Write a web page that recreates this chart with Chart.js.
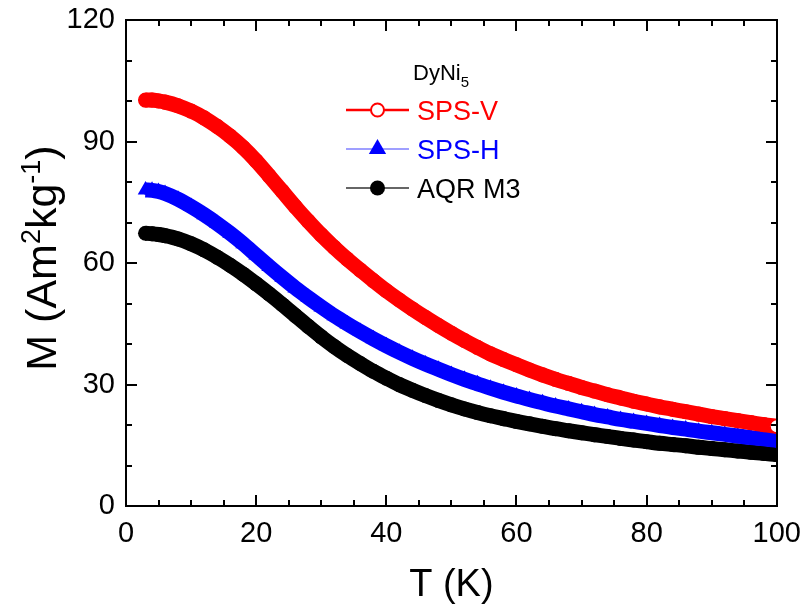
<!DOCTYPE html>
<html>
<head>
<meta charset="utf-8">
<script src="https://cdn.jsdelivr.net/npm/chart.js@4.4.1/dist/chart.umd.min.js"></script>
<style>
  html, body { margin: 0; padding: 0; background: #fff; }
  #wrap { width: 804px; height: 611px; }
</style>
</head>
<body>
<div id="wrap"><canvas id="mtChart" width="804" height="611"></canvas></div>
<script>
// temperature (K)
const temps = [
  3, 4, 5, 6, 8, 10, 12, 14, 16, 18, 20, 22, 24, 26, 28, 30, 32, 34, 36, 38,
  40, 42, 44, 46, 48, 50, 52, 54, 56, 58, 60, 62, 64, 66, 68, 70, 72, 74, 76, 78,
  80, 82, 84, 86, 88, 90, 92, 94, 96, 98, 100
];
// M (Am2/kg) for each sample
const spsV = [
  100.3, 100.3, 100.1, 99.8, 98.9, 97.6, 95.9, 93.8, 91.4, 88.6, 85.3, 81.6, 77.8, 74.0, 70.4, 67.0, 63.9, 61.0, 58.3, 55.7,
  53.2, 50.9, 48.7, 46.6, 44.6, 42.7, 40.9, 39.2, 37.6, 36.2, 34.9, 33.6, 32.4, 31.3, 30.3, 29.3, 28.4, 27.5, 26.7, 25.9,
  25.2, 24.5, 23.9, 23.3, 22.7, 22.1, 21.6, 21.1, 20.6, 20.1, 19.7
];
const spsH = [
  78.1, 78.0, 77.7, 77.2, 75.8, 74.0, 72.0, 69.8, 67.4, 64.8, 62.0, 59.2, 56.5, 53.9, 51.5, 49.2, 47.0, 45.0, 43.1, 41.3,
  39.6, 38.0, 36.5, 35.1, 33.8, 32.5, 31.3, 30.2, 29.1, 28.1, 27.2, 26.3, 25.5, 24.7, 24.0, 23.3, 22.6, 22.0, 21.4, 20.9,
  20.4, 19.9, 19.4, 19.0, 18.5, 18.1, 17.7, 17.3, 16.9, 16.6, 16.2
];
const aqrM3 = [
  67.4, 67.3, 67.1, 66.8, 66.0, 64.8, 63.3, 61.5, 59.5, 57.3, 54.9, 52.4, 49.8, 47.1, 44.4, 41.8, 39.4, 37.2, 35.2, 33.3,
  31.6, 30.0, 28.6, 27.3, 26.1, 25.0, 24.0, 23.1, 22.3, 21.6, 20.9, 20.3, 19.7, 19.1, 18.6, 18.1, 17.6, 17.2, 16.7, 16.3,
  15.9, 15.5, 15.2, 14.9, 14.5, 14.2, 13.9, 13.6, 13.3, 13.0, 12.7
];
const xTicks = [0, 20, 40, 60, 80, 100];
const yTicks = [0, 30, 60, 90, 120];

const FONT = "'Liberation Sans', Arial, sans-serif";
const pts = vals => temps.map((t, i) => ({ x: t, y: vals[i] }));

// box frame with inward major/minor ticks on all four sides
const frame = {
  id: "boxframe",
  afterDatasetsDraw(chart) {
    const ctx = chart.ctx;
    const a = chart.chartArea;
    const xs = chart.scales.x, ys = chart.scales.y;
    const L = Math.round(a.left), R = Math.round(a.right);
    const T = Math.round(a.top), B = Math.round(a.bottom);
    ctx.save();
    ctx.fillStyle = "#000000";
    ctx.fillRect(L - 1, T - 1, R - L + 2, 2);
    ctx.fillRect(L - 1, B - 1, R - L + 2, 2);
    ctx.fillRect(L - 1, T - 1, 2, B - T + 2);
    ctx.fillRect(R - 1, T - 1, 2, B - T + 2);
    for (let v = 0; v <= 100; v += 5) {
      const px = Math.round(xs.getPixelForValue(v));
      const len = xTicks.indexOf(v) >= 0 ? 11 : 6;
      ctx.fillRect(px - 1, B - len, 2, len);
      ctx.fillRect(px - 1, T, 2, len);
    }
    for (let v = 0; v <= 120; v += 10) {
      const py = Math.round(ys.getPixelForValue(v));
      const len = yTicks.indexOf(v) >= 0 ? 11 : 6;
      ctx.fillRect(L, py - 1, len, 2);
      ctx.fillRect(R - len, py - 1, len, 2);
    }
    ctx.restore();
  }
};

// y title with superscripts, and the legend block
const labels = {
  id: "labels",
  afterDraw(chart) {
    const ctx = chart.ctx;
    ctx.save();
    // y axis title
    ctx.translate(41, 258);
    ctx.rotate(-Math.PI / 2);
    const big = "43px " + FONT, small = "27px " + FONT;
    const parts = [["M (Am", big, 0], ["2", small, -16], ["kg", big, 0], ["-1", small, -16], [")", big, 0]];
    let w = 0;
    parts.forEach(p => { ctx.font = p[1]; w += ctx.measureText(p[0]).width; });
    let cx = -w / 2;
    ctx.fillStyle = "#000";
    ctx.textBaseline = "alphabetic";
    parts.forEach(p => {
      ctx.font = p[1];
      ctx.fillText(p[0], cx, 15 + p[2]);
      cx += ctx.measureText(p[0]).width;
    });
    ctx.restore();

    // legend
    ctx.save();
    ctx.textBaseline = "alphabetic";
    ctx.fillStyle = "#000";
    ctx.font = "22px " + FONT;
    ctx.fillText("DyNi", 413, 80);
    const dw = ctx.measureText("DyNi").width;
    ctx.font = "15px " + FONT;
    ctx.fillText("5", 413 + dw, 87);

    const rows = [
      { name: "SPS-V", color: "#ff0000", line: "#ff0000", lw: 2.5, y: 110, style: "open" },
      { name: "SPS-H", color: "#0000ff", line: "#7f7fff", lw: 1.5, y: 149, style: "tri" },
      { name: "AQR M3", color: "#000000", line: "#333333", lw: 1.5, y: 188, style: "dot" }
    ];
    rows.forEach(r => {
      ctx.strokeStyle = r.line;
      ctx.lineWidth = r.lw;
      ctx.beginPath();
      ctx.moveTo(346, r.y); ctx.lineTo(409, r.y);
      ctx.stroke();
      const mx = 377.5;
      ctx.beginPath();
      if (r.style === "open") {
        ctx.arc(mx, r.y, 6.5, 0, Math.PI * 2);
        ctx.fillStyle = "#fff"; ctx.fill();
        ctx.lineWidth = 2; ctx.strokeStyle = r.color; ctx.stroke();
      } else if (r.style === "tri") {
        const rad = 10;
        ctx.moveTo(mx, r.y - rad);
        ctx.lineTo(mx + rad * 0.866, r.y + rad / 2);
        ctx.lineTo(mx - rad * 0.866, r.y + rad / 2);
        ctx.closePath();
        ctx.fillStyle = r.color; ctx.fill();
      } else {
        ctx.arc(mx, r.y, 7.5, 0, Math.PI * 2);
        ctx.fillStyle = r.color; ctx.fill();
      }
      ctx.fillStyle = r.color;
      ctx.font = "27px " + FONT;
      ctx.fillText(r.name, 417, r.y + 9.5);
    });
    ctx.restore();
  }
};

const redFill = temps.map((t, i) => (i === temps.length - 1 ? "#ffffff" : "#ff0000"));

new Chart(document.getElementById("mtChart").getContext("2d"), {
  type: "scatter",
  data: {
    datasets: [
      {
        label: "SPS-V",
        data: pts(spsV),
        showLine: true,
        borderColor: "#ff0000",
        borderWidth: 15,
        borderJoinStyle: "round",
        cubicInterpolationMode: "monotone",
        pointStyle: "circle",
        pointRadius: 6.8,
        pointBorderWidth: 1.5,
        pointBorderColor: "#ff0000",
        pointBackgroundColor: redFill,
        clip: 0,
        order: 0
      },
      {
        label: "SPS-H",
        data: pts(spsH),
        showLine: true,
        borderColor: "#0000ff",
        borderWidth: 15,
        borderJoinStyle: "round",
        borderCapStyle: "butt",
        cubicInterpolationMode: "monotone",
        pointStyle: "triangle",
        pointRadius: 9,
        pointBorderWidth: 0,
        pointBackgroundColor: "#0000ff",
        clip: 0,
        order: 1
      },
      {
        label: "AQR M3",
        data: pts(aqrM3),
        showLine: true,
        borderColor: "#000000",
        borderWidth: 15,
        borderJoinStyle: "round",
        cubicInterpolationMode: "monotone",
        pointStyle: "circle",
        pointRadius: 7.5,
        pointBorderWidth: 0,
        pointBackgroundColor: "#000000",
        clip: 0,
        order: 2
      }
    ]
  },
  options: {
    responsive: false,
    animation: false,
    events: [],
    layout: { padding: { top: 17, right: 27, left: 0, bottom: 0 } },
    plugins: {
      legend: { display: false },
      tooltip: { enabled: false }
    },
    scales: {
      x: {
        type: "linear",
        min: 0,
        max: 100,
        afterFit: s => { s.height = 105; },
        afterBuildTicks: s => { s.ticks = xTicks.map(v => ({ value: v })); },
        grid: { display: false, drawTicks: true, tickLength: 8 },
        border: { display: false },
        ticks: { color: "#000", padding: 3, font: { family: FONT, size: 29 } },
        title: {
          display: true,
          text: "T (K)",
          color: "#000",
          font: { family: FONT, size: 38 },
          padding: { top: 0, bottom: 3 }
        }
      },
      y: {
        type: "linear",
        min: 0,
        max: 120,
        afterFit: s => { s.width = 126; },
        afterBuildTicks: s => { s.ticks = yTicks.map(v => ({ value: v })); },
        grid: { display: false, drawTicks: true, tickLength: 8 },
        border: { display: false },
        ticks: { color: "#000", padding: 3, font: { family: FONT, size: 29 } }
      }
    }
  },
  plugins: [frame, labels]
});
</script>
</body>
</html>
